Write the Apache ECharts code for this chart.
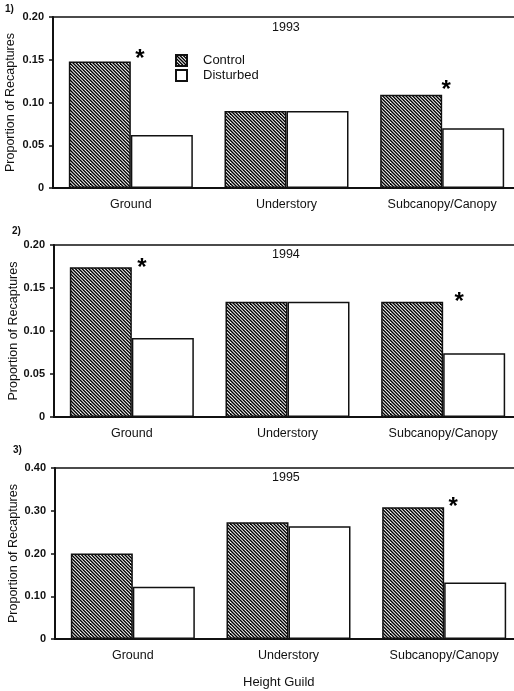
<!DOCTYPE html>
<html>
<head>
<meta charset="utf-8">
<script src="https://cdn.jsdelivr.net/npm/echarts@6/dist/echarts.min.js"></script>
<style>
  html, body { margin: 0; padding: 0; background: #fff; }
  #chart { width: 514px; height: 691px; }
</style>
</head>
<body>
<div id="chart"></div>
<script>
// data
const categories = ['Ground', 'Understory', 'Subcanopy/Canopy']
const years = ['1993', '1994', '1995']

const control1993 = [0.148, 0.090, 0.109]
const disturbed1993 = [0.062, 0.090, 0.070]
const control1994 = [0.174, 0.134, 0.134]
const disturbed1994 = [0.092, 0.134, 0.074]
const control1995 = [0.200, 0.273, 0.308]
const disturbed1995 = [0.122, 0.264, 0.132]

// asterisks (significant difference) per category
const signif1993 = [true, false, true]
const signif1994 = [true, false, true]
const signif1995 = [false, false, true]

const ticks1993 = [0, 0.05, 0.10, 0.15, 0.20]
const ticks1994 = [0, 0.05, 0.10, 0.15, 0.20]
const ticks1995 = [0, 0.10, 0.20, 0.30, 0.40]

const controlData = [control1993, control1994, control1995]
const disturbedData = [disturbed1993, disturbed1994, disturbed1995]
const signifData = [signif1993, signif1994, signif1995]
const tickData = [ticks1993, ticks1994, ticks1995]

// layout
const FONT = '"Liberation Sans", Arial, Helvetica, sans-serif'
const INK = '#111'
const panels = [
  { left: 53, top: 17, height: 171, nameGap: 36, star: [[40, 10], null, [35, 8]] },
  { left: 54, top: 245, height: 172, nameGap: 34, star: [[41, 13], null, [47, 13]] },
  { left: 55, top: 468, height: 171, nameGap: 35, star: [null, null, [40, 12]] }
]

// diagonal hatch pattern for the control bars
function makeHatch () {
  const n = 10
  const c = document.createElement('canvas')
  c.width = n
  c.height = n
  const ctx = c.getContext('2d')
  ctx.fillStyle = '#fff'
  ctx.fillRect(0, 0, n, n)
  ctx.strokeStyle = '#000'
  ctx.lineWidth = 1.4
  const p = n / 3
  for (let k = -6; k <= 6; k++) {
    ctx.beginPath()
    ctx.moveTo(k * p - n, -n)
    ctx.lineTo(k * p + 2 * n, 2 * n)
    ctx.stroke()
  }
  return c
}
const hatch = { image: makeHatch(), repeat: 'repeat' }

const grids = []
const xAxes = []
const yAxes = []
const series = []
const titles = []

panels.forEach((p, i) => {
  const ticks = tickData[i]
  grids.push({
    left: p.left,
    top: p.top,
    width: 467,
    height: p.height,
    outerBoundsMode: 'none',
    containLabel: false,
    show: true,
    borderColor: INK,
    borderWidth: 1.5,
    backgroundColor: 'transparent'
  })
  xAxes.push({
    type: 'category',
    gridIndex: i,
    data: categories,
    axisLine: { lineStyle: { color: INK, width: 2 } },
    axisTick: { alignWithLabel: true, length: 6, lineStyle: { color: INK, width: 1.5 } },
    axisLabel: { color: INK, fontSize: 12.5, fontFamily: FONT, margin: 10 },
    splitLine: { show: false }
  })
  yAxes.push({
    type: 'value',
    gridIndex: i,
    min: ticks[0],
    max: ticks[ticks.length - 1],
    interval: ticks[1] - ticks[0],
    name: 'Proportion of Recaptures',
    nameLocation: 'middle',
    nameRotate: 90,
    nameGap: p.nameGap,
    nameMoveOverlap: false,
    nameTextStyle: { color: INK, fontSize: 12.5, fontFamily: FONT },
    axisLine: { show: true, lineStyle: { color: INK, width: 2 } },
    axisTick: { show: true, length: 4, lineStyle: { color: INK, width: 1.5 } },
    axisLabel: {
      color: INK,
      fontSize: 11,
      fontFamily: FONT,
      fontWeight: 'bold',
      margin: 9,
      formatter: v => (v === 0 ? '0' : v.toFixed(2))
    },
    splitLine: { show: false }
  })

  series.push({
    name: 'Control',
    type: 'bar',
    xAxisIndex: i,
    yAxisIndex: i,
    barWidth: 62,
    barGap: '0%',
    itemStyle: { color: hatch, borderColor: INK, borderWidth: 1.5 },
    data: controlData[i].map((v, j) => {
      if (!signifData[i][j]) return v
      const off = p.star[j]
      return {
        value: v,
        label: {
          show: true,
          position: 'top',
          distance: 0,
          offset: off,
          formatter: '*',
          color: '#000',
          fontSize: 24,
          fontWeight: 'bold',
          fontFamily: FONT
        }
      }
    })
  })
  series.push({
    name: 'Disturbed',
    type: 'bar',
    xAxisIndex: i,
    yAxisIndex: i,
    barWidth: 62,
    barGap: '0%',
    itemStyle: { color: '#fff', borderColor: INK, borderWidth: 1.5 },
    data: disturbedData[i]
  })

  titles.push({
    text: years[i],
    left: 272,
    top: p.top + (i === 0 ? 4 : 3),
    padding: 0,
    textStyle: { color: INK, fontSize: 12.5, fontWeight: 'normal', fontFamily: FONT }
  })
})

titles.push(
  { text: '1)', left: 5, top: 4, padding: 0, textStyle: { color: INK, fontSize: 10, fontWeight: 'bold', fontFamily: FONT } },
  { text: '2)', left: 12, top: 226, padding: 0, textStyle: { color: INK, fontSize: 10, fontWeight: 'bold', fontFamily: FONT } },
  { text: '3)', left: 13, top: 445, padding: 0, textStyle: { color: INK, fontSize: 10, fontWeight: 'bold', fontFamily: FONT } },
  { text: 'Height Guild', left: 243, top: 676, padding: 0, textStyle: { color: INK, fontSize: 13, fontWeight: 'normal', fontFamily: FONT } }
)

const chart = echarts.init(document.getElementById('chart'), null, { renderer: 'canvas' })
chart.setOption({
  animation: false,
  backgroundColor: '#fff',
  title: titles,
  legend: {
    data: ['Control', 'Disturbed'],
    orient: 'vertical',
    left: 175,
    top: 54,
    padding: 0,
    icon: 'rect',
    itemWidth: 11,
    itemHeight: 11,
    itemGap: 2,
    selectedMode: false,
    textStyle: { color: INK, fontSize: 13, fontFamily: FONT, padding: [0, 0, 0, 11] }
  },
  grid: grids,
  xAxis: xAxes,
  yAxis: yAxes,
  series: series
})
</script>
</body>
</html>
